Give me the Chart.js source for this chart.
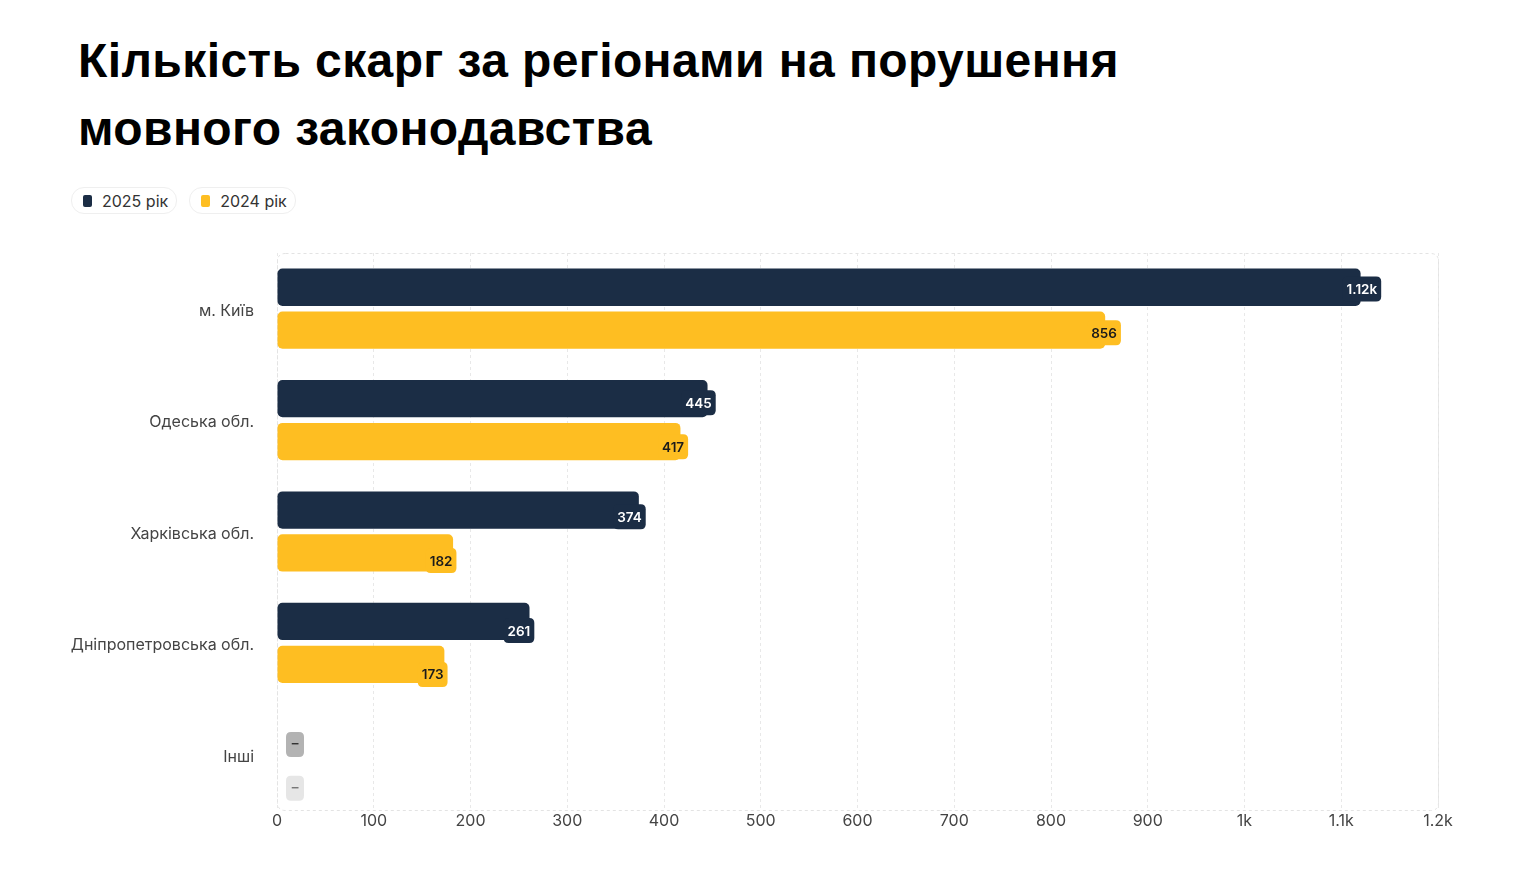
<!DOCTYPE html>
<html>
<head>
<meta charset="utf-8">
<script src="https://cdn.jsdelivr.net/npm/chart.js@4.4.1/dist/chart.umd.min.js"></script>
<style>
  html, body { margin:0; padding:0; background:#fff; width:1536px; height:884px; overflow:hidden; }
  #wrap { position:relative; width:1536px; height:884px; }
  h1 { position:absolute; left:78px; top:27px; margin:0; font-family:"Liberation Sans", Arial, sans-serif; font-weight:bold; font-size:48px; line-height:68px; color:#000; letter-spacing:0.4px; white-space:nowrap; }
  .legend { position:absolute; left:71px; top:187px; display:flex; gap:12px; font-family:Inter, sans-serif; font-size:16px; color:#333; }
  .pill { display:flex; align-items:center; height:25px; padding:0 8px 0 11px; border:1px solid #efefef; border-radius:13px; }
  .sw { width:9px; height:12px; border-radius:2px; margin-right:10px; }
  canvas { position:absolute; left:0; top:0; }
</style>
</head>
<body>
<div id="wrap">
  <h1>Кількість скарг за регіонами на порушення<br>мовного законодавства</h1>
  <div class="legend" id="legend"></div>
  <canvas id="c" width="1536" height="884"></canvas>
</div>
<script>
const categories = ["м. Київ", "Одеська обл.", "Харківська обл.", "Дніпропетровська обл.", "Інші"];
const seriesNames = ["2025 рік", "2024 рік"];
const values2025 = [1120, 445, 374, 261, null];
const values2024 = [856, 417, 182, 173, null];
const xTicks = [0, 100, 200, 300, 400, 500, 600, 700, 800, 900, 1000, 1100, 1200];

const NAVY = "#1b2d45", YELLOW = "#febe22";
const colors = [NAVY, YELLOW];
const textColors = ["#ffffff", "#1b1b1b"];
const emptyBox = ["#b3b3b3", "#e6e6e6"];
const emptyText = ["#333", "#777"];

const leg = document.getElementById("legend");
seriesNames.forEach((n, i) => {
  const p = document.createElement("div"); p.className = "pill";
  p.innerHTML = '<span class="sw" style="background:' + colors[i] + '"></span>' + n;
  leg.appendChild(p);
});

function fmt(v) {
  if (v >= 1000) { return (Math.round(v / 10) / 100).toString() + "k"; }
  return String(v);
}
function tickFmt(v) {
  if (v >= 1000) return (v / 1000).toString() + "k";
  return String(v);
}
function rr(ctx, x, y, w, h, r) {
  ctx.beginPath();
  ctx.moveTo(x + r, y);
  ctx.lineTo(x + w - r, y); ctx.quadraticCurveTo(x + w, y, x + w, y + r);
  ctx.lineTo(x + w, y + h - r); ctx.quadraticCurveTo(x + w, y + h, x + w - r, y + h);
  ctx.lineTo(x + r, y + h); ctx.quadraticCurveTo(x, y + h, x, y + h - r);
  ctx.lineTo(x, y + r); ctx.quadraticCurveTo(x, y, x + r, y);
  ctx.closePath();
}

const framePlugin = {
  id: "frame",
  beforeDatasetsDraw(chart) {
    const { ctx, chartArea: a } = chart;
    ctx.save();
    ctx.strokeStyle = "#e3e3e3"; ctx.lineWidth = 1; ctx.setLineDash([3, 3]);
    rr(ctx, a.left + 0.5, a.top + 0.5, a.right - a.left, a.bottom - a.top, 8);
    ctx.stroke();
    ctx.restore();
  }
};

const labelPlugin = {
  id: "barLabels",
  afterDatasetsDraw(chart) {
    const { ctx, chartArea: a } = chart;
    const xs = chart.scales.x;
    ctx.save();
    ctx.font = "600 13.5px Inter, sans-serif";
    ctx.textBaseline = "middle";
    chart.data.datasets.forEach((ds, di) => {
      const meta = chart.getDatasetMeta(di);
      meta.data.forEach((bar, i) => {
        const v = ds.data[i];
        const yc = bar.y + (bar.y - a.top) * 0.022 + 1;
        const h = 25;
        if (v === null || v === undefined) {
          const x0 = xs.getPixelForValue(0) + 9;
          ctx.fillStyle = emptyBox[di];
          rr(ctx, x0, yc - h / 2, 18, h, 5); ctx.fill();
          ctx.fillStyle = emptyText[di];
          ctx.textAlign = "center";
          ctx.fillText("–", x0 + 9, yc);
          return;
        }
        const txt = fmt(v);
        const tw = ctx.measureText(txt).width;
        const right = xs.getPixelForValue(v * 1.019);
        const w = tw + 8;
        ctx.fillStyle = colors[di];
        rr(ctx, right - w, yc - h / 2, w, h, 5); ctx.fill();
        ctx.fillStyle = textColors[di];
        ctx.textAlign = "right";
        ctx.fillText(txt, right - 4, yc + 1);
      });
    });
    ctx.restore();
  }
};

new Chart(document.getElementById("c"), {
  type: "bar",
  data: {
    labels: categories,
    datasets: [
      { label: seriesNames[0], data: values2025, backgroundColor: NAVY },
      { label: seriesNames[1], data: values2024, backgroundColor: YELLOW }
    ]
  },
  options: {
    indexAxis: "y",
    responsive: false,
    animation: false,
    devicePixelRatio: 1,
    layout: { padding: { top: 253, right: 98, bottom: 44, left: 0 } },
    datasets: { bar: { categoryPercentage: 0.77, barPercentage: 0.87, borderRadius: 5, borderSkipped: false } },
    plugins: { legend: { display: false }, tooltip: { enabled: false } },
    scales: {
      x: {
        min: 0, max: 1200,
        afterBuildTicks(scale) { scale.ticks = xTicks.map(v => ({ value: v })); },
        afterFit(scale) { scale.height = 30; },
        ticks: { callback: v => tickFmt(v), color: "#444", font: { family: "Inter", size: 16 }, padding: 2 },
        grid: { color: "#e8e8e8", drawTicks: false, tickLength: 0 },
        border: { display: false, dash: [3, 3] }
      },
      y: {
        afterFit(scale) { scale.width = 277; },
        ticks: { color: "#444", font: { family: "Inter", size: 16 }, padding: 15, labelOffset: 2.5 },
        grid: { display: false },
        border: { display: false }
      }
    }
  },
  plugins: [framePlugin, labelPlugin]
});
</script>
</body>
</html>
